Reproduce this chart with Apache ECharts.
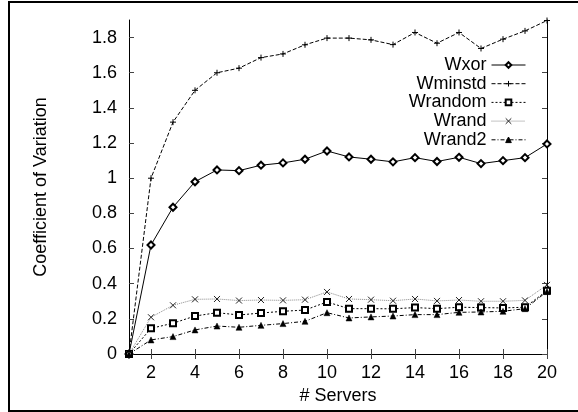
<!DOCTYPE html>
<html>
<head>
<meta charset="utf-8">
<script src="https://cdn.jsdelivr.net/npm/echarts@6/dist/echarts.min.js"></script>
<style>
html,body{margin:0;padding:0;background:#fff;}
#c{width:578px;height:412px;}
</style>
</head>
<body>
<div id="c"></div>
<script>
const servers = [1,2,3,4,5,6,7,8,9,10,11,12,13,14,15,16,17,18,19,20];
const wxor    = [0,0.62,0.835,0.98,1.047,1.043,1.074,1.087,1.108,1.155,1.121,1.108,1.093,1.117,1.095,1.119,1.083,1.100,1.117,1.195];
const wminstd = [0,1.0,1.319,1.50,1.60,1.626,1.686,1.707,1.759,1.797,1.797,1.787,1.760,1.829,1.768,1.829,1.738,1.791,1.838,1.897];
const wrandom = [0,0.146,0.175,0.216,0.235,0.222,0.233,0.243,0.250,0.296,0.258,0.258,0.257,0.264,0.258,0.266,0.264,0.262,0.266,0.360];
const wrand   = [0,0.209,0.277,0.311,0.313,0.304,0.307,0.305,0.309,0.353,0.313,0.309,0.303,0.313,0.302,0.307,0.300,0.300,0.305,0.393];
const wrand2  = [0,0.080,0.099,0.137,0.159,0.152,0.163,0.173,0.186,0.235,0.205,0.211,0.216,0.224,0.224,0.237,0.239,0.243,0.258,0.355];
const seriesNames = ['Wxor','Wminstd','Wrandom','Wrand','Wrand2'];
const xTicks = [2,4,6,8,10,12,14,16,18,20];
const yTicks = [0,0.2,0.4,0.6,0.8,1,1.2,1.4,1.6,1.8];

const FONT = 'Liberation Sans';
const pair = arr => servers.map((s,i)=>[s,arr[i]]);

const chart = echarts.init(document.getElementById('c'), null, {renderer:'canvas'});

const baseX = {
  type:'value', min:1, max:20,
  axisLine:{show:true, lineStyle:{color:'#000', width:1}},
  splitLine:{show:false},
};
const baseY = {
  type:'value', min:0, max:1.9,
  axisLine:{show:true, lineStyle:{color:'#000', width:1}},
  splitLine:{show:false},
};

function mkSeries(name, data, lineStyle, symbol, size, itemStyle){
  return {
    name, type:'line', data: pair(data),
    xAxisIndex:0, yAxisIndex:0,
    symbol, symbolSize:size, showSymbol:true,
    lineStyle, itemStyle, animation:false,
    emphasis:{disabled:true}
  };
}

chart.setOption({
  animation:false,
  backgroundColor:'#fff',
  textStyle:{fontFamily:FONT},
  grid:{left:129, top:20, right:31, bottom:58, containLabel:false},
  graphic:[{
    type:'rect', silent:true, z:-1,
    shape:{x:9, y:2, width:700, height:409},
    style:{fill:null, stroke:'#000', lineWidth:2}
  }],
  xAxis:[
    Object.assign({}, baseX, {
      position:'bottom',
      name:'# Servers', nameLocation:'middle', nameGap:26,
      nameTextStyle:{fontSize:18, color:'#000', fontFamily:FONT},
      axisTick:{show:true, inside:true, length:5, customValues:xTicks, lineStyle:{color:'#444'}},
      axisLabel:{show:true, customValues:xTicks, margin:10, fontSize:18, color:'#000', fontFamily:FONT}
    }),
    Object.assign({}, baseX, {
      position:'top',
      axisTick:{show:true, inside:true, length:5, customValues:xTicks, lineStyle:{color:'#444'}},
      axisLabel:{show:false}
    })
  ],
  yAxis:[
    Object.assign({}, baseY, {
      position:'left',
      name:'Coefficient of Variation', nameLocation:'middle', nameGap:79,
      nameTextStyle:{fontSize:18, color:'#000', fontFamily:FONT},
      axisTick:{show:true, inside:true, length:5, customValues:yTicks, lineStyle:{color:'#444'}},
      axisLabel:{show:true, customValues:yTicks, margin:12, fontSize:18, color:'#000', fontFamily:FONT}
    }),
    Object.assign({}, baseY, {
      position:'right',
      axisTick:{show:true, inside:true, length:5, customValues:yTicks, lineStyle:{color:'#444'}},
      axisLabel:{show:false}
    })
  ],
  legend:{
    orient:'vertical', right:47, top:51, align:'right',
    itemWidth:34, itemHeight:7, itemGap:0.7,
    data:seriesNames,
    lineStyle:{width:1},
    itemStyle:{borderWidth:1},
    textStyle:{fontSize:18, color:'#000', fontFamily:FONT, lineHeight:18},
    selectedMode:false
  },
  series:[
    mkSeries(seriesNames[0], wxor, {color:'#000', width:1, type:'solid'}, 'emptyDiamond', 7,
             {color:'#000', borderColor:'#000', borderWidth:1}),
    mkSeries(seriesNames[1], wminstd, {color:'#000', width:1, type:[4,2]}, 'path://M5,0 L5,10 M0,5 L10,5', 6,
             {color:'#000', borderColor:'#000', borderWidth:1}),
    mkSeries(seriesNames[2], wrandom, {color:'#000', width:1, type:[2,2]}, 'emptyRect', 6,
             {color:'#000', borderColor:'#000', borderWidth:1}),
    mkSeries(seriesNames[3], wrand, {color:'#888', width:1, type:[1,1]}, 'path://M0,0 L10,10 M10,0 L0,10', 6,
             {color:'#000', borderColor:'#222', borderWidth:1}),
    mkSeries(seriesNames[4], wrand2, {color:'#000', width:1, type:[4,2,1,2]}, 'triangle', 6,
             {color:'#000', borderColor:'#000', borderWidth:0.5})
  ]
});
</script>
</body>
</html>
